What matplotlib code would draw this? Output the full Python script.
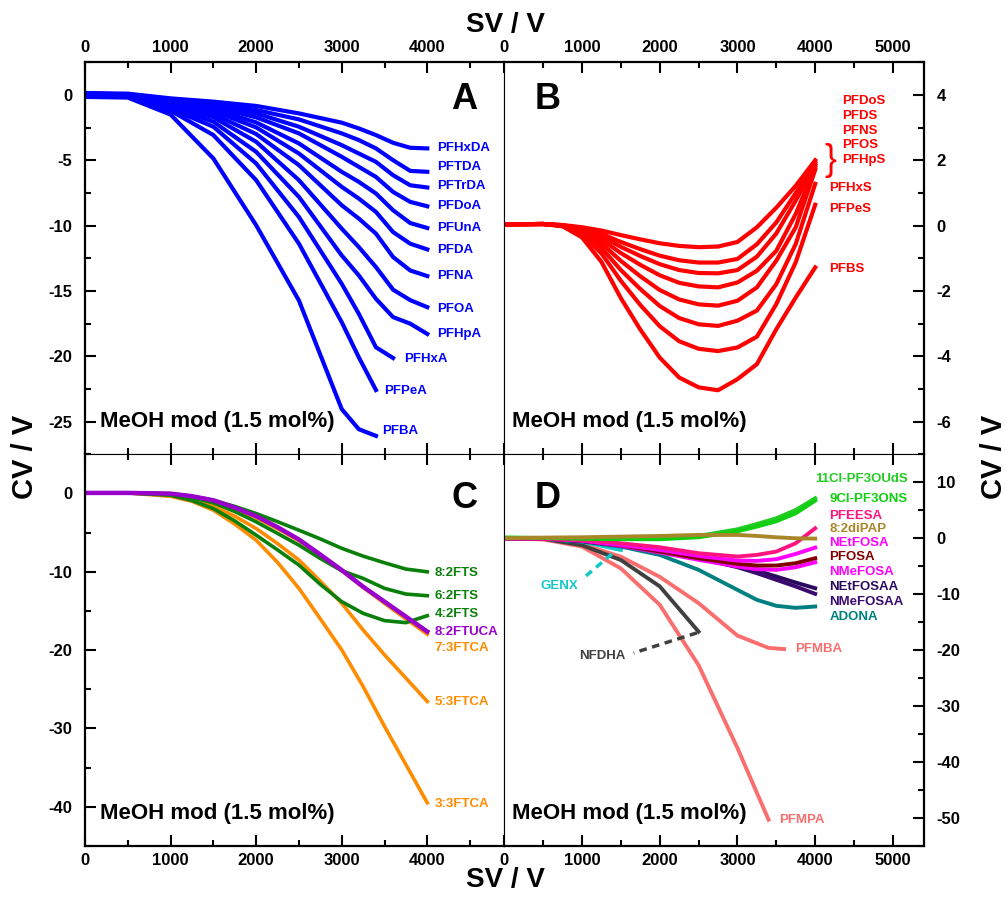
import matplotlib
matplotlib.use('Agg')
import matplotlib.pyplot as plt
from matplotlib.ticker import MultipleLocator

plt.rcParams['font.family'] = ['Liberation Sans', 'DejaVu Sans']
plt.rcParams['font.weight'] = 'bold'
plt.rcParams['axes.unicode_minus'] = False

# ---- Panel A: carboxylic acids ----
sv_a = [0, 500, 1000, 1500, 2000, 2500, 3000, 3200, 3400, 3600, 3800, 4000]
names_a = ['PFHxDA', 'PFTDA', 'PFTrDA', 'PFDoA', 'PFUnA', 'PFDA', 'PFNA',
           'PFOA', 'PFHpA', 'PFHxA', 'PFPeA', 'PFBA']
cv_a = [
    [0.15, 0.1, -0.26, -0.51, -0.84, -1.41, -2.12, -2.56, -3.07, -3.66, -4.04, -4.09],
    [0.1, 0.05, -0.31, -0.64, -1.15, -1.87, -2.94, -3.45, -4.09, -4.99, -5.81, -5.88],
    [0.1, 0.05, -0.38, -0.77, -1.41, -2.43, -3.84, -4.48, -5.12, -6.14, -6.91, -7.08],
    [0.05, 0.0, -0.43, -0.9, -1.71, -2.94, -4.73, -5.5, -6.27, -7.42, -8.18, -8.52],
    [0.05, 0.0, -0.51, -1.07, -2.1, -3.71, -5.88, -6.65, -7.54, -8.82, -9.8, -10.18],
    [0.0, -0.05, -0.59, -1.23, -2.48, -4.48, -7.03, -7.93, -8.95, -10.49, -11.38, -11.82],
    [0.0, -0.05, -0.69, -1.46, -2.99, -5.37, -8.44, -9.46, -10.61, -12.4, -13.43, -13.86],
    [-0.05, -0.1, -0.79, -1.71, -3.58, -6.52, -10.23, -11.64, -13.17, -14.9, -15.7, -16.24],
    [-0.05, -0.1, -0.9, -2.05, -4.35, -7.8, -12.28, -13.81, -15.6, -17.0, -17.5, -18.29],
    [-0.1, -0.15, -1.05, -2.43, -5.24, -9.34, -14.45, -16.75, -19.31, -20.13],
    [-0.1, -0.15, -1.2, -3.07, -6.52, -11.38, -17.39, -20.08, -22.58],
    [-0.15, -0.2, -1.5, -4.86, -9.97, -15.73, -24.04, -25.58, -26.09],
]

# ---- Panel B: sulfonic acids ----
sv_b = [0, 500, 750, 1000, 1250, 1500, 1750, 2000, 2250, 2500, 2750, 3000,
        3250, 3500, 3750, 4000]
names_b = ['PFDoS', 'PFDS', 'PFNS', 'PFOS', 'PFHpS', 'PFHxS', 'PFPeS', 'PFBS']
cv_b = [
    [0.04, 0.05, 0.02, -0.05, -0.15, -0.29, -0.42, -0.54, -0.62, -0.66, -0.64, -0.5, -0.05, 0.55, 1.22, 2.0],
    [0.04, 0.05, 0.01, -0.08, -0.25, -0.5, -0.72, -0.92, -1.06, -1.13, -1.13, -1.02, -0.57, 0.1, 1.0, 1.92],
    [0.04, 0.05, 0.01, -0.1, -0.32, -0.65, -0.93, -1.18, -1.36, -1.45, -1.46, -1.36, -0.95, -0.24, 0.77, 1.85],
    [0.04, 0.05, 0.0, -0.13, -0.42, -0.84, -1.2, -1.52, -1.75, -1.86, -1.89, -1.74, -1.38, -0.77, 0.36, 1.79],
    [0.04, 0.05, 0.0, -0.17, -0.54, -1.08, -1.55, -1.97, -2.26, -2.41, -2.45, -2.3, -1.89, -1.07, -0.05, 1.71],
    [0.04, 0.05, 0.0, -0.22, -0.68, -1.36, -1.94, -2.46, -2.83, -3.02, -3.07, -2.91, -2.6, -1.79, -0.56, 1.28],
    [0.04, 0.05, -0.01, -0.27, -0.85, -1.69, -2.43, -3.08, -3.54, -3.77, -3.84, -3.73, -3.4, -2.4, -1.12, 0.64],
    [0.04, 0.05, -0.02, -0.36, -1.11, -2.22, -3.18, -4.04, -4.65, -4.95, -5.04, -4.7, -4.24, -3.17, -2.2, -1.28],
]

# ---- Panel C: fluorotelomers ----
sv_c = [0, 500, 1000, 1250, 1500, 1750, 2000, 2250, 2500, 2750, 3000, 3250, 3500, 3750, 4000]
names_c = ['8:2FTS', '6:2FTS', '4:2FTS', '8:2FTUCA', '7:3FTCA', '5:3FTCA', '3:3FTCA']
cv_c = [
    [0.07, 0.07, -0.02, -0.35, -0.87, -1.65, -2.56, -3.6, -4.69, -5.8, -7.0, -8.0, -8.85, -9.65, -10.0],
    [0.07, 0.07, -0.1, -0.5, -1.2, -2.3, -3.62, -5.1, -6.6, -8.3, -9.86, -10.84, -12.11, -12.84, -13.05],
    [0.07, 0.07, -0.23, -0.9, -1.93, -3.5, -5.32, -7.2, -9.14, -11.6, -13.81, -15.3, -16.23, -16.49, -15.6],
    [0.07, 0.07, -0.02, -0.35, -0.87, -1.8, -2.9, -4.3, -5.87, -7.8, -9.78, -11.9, -13.81, -15.72, -17.63],
    [0.07, 0.07, -0.1, -0.5, -1.08, -2.0, -3.12, -4.5, -6.04, -7.9, -9.86, -11.99, -14.02, -16.02, -17.97],
    [0.07, 0.07, -0.23, -0.8, -1.63, -2.9, -4.47, -6.4, -8.5, -11.2, -14.02, -17.42, -20.6, -23.57, -26.55],
    [0.07, 0.07, -0.36, -1.0, -2.14, -3.9, -5.96, -8.8, -12.11, -16.0, -19.96, -24.64, -29.73, -34.61, -39.49],
]

# ---- Panel D: other PFAS ----
sv_d = [0, 500, 1000, 1500, 2000, 2500, 3000, 3250, 3500, 3750, 4000]
names_d = ['11Cl-PF3OUdS', '9Cl-PF3ONS', 'PFEESA', '8:2diPAP', 'NEtFOSA', 'PFOSA',
           'NMeFOSA', 'NEtFOSAA', 'NMeFOSAA', 'ADONA']
cv_d = [
    [0.11, 0.05, -0.01, -0.07, -0.01, 0.41, 1.6, 2.55, 3.57, 5.05, 7.14],
    [0.11, 0.05, -0.07, -0.18, -0.18, 0.17, 1.24, 2.08, 3.03, 4.46, 6.72],
    [-0.01, -0.07, -0.3, -0.9, -1.61, -2.68, -3.27, -2.98, -2.38, -0.89, 1.78],
    [-0.01, 0.11, 0.17, 0.29, 0.41, 0.59, 0.59, 0.41, 0.17, -0.01, -0.07],
    [-0.01, -0.07, -0.42, -1.2, -2.09, -3.16, -3.99, -4.05, -3.75, -2.8, -1.67],
    [-0.01, -0.07, -0.42, -1.26, -2.38, -3.57, -4.58, -4.88, -4.88, -4.46, -3.57],
    [-0.01, -0.07, -0.42, -1.36, -2.55, -3.86, -5.05, -5.53, -5.65, -5.18, -4.29],
    [-0.01, -0.07, -0.48, -1.31, -2.09, -3.16, -4.76, -5.77, -6.84, -7.92, -8.93],
    [-0.01, -0.07, -0.48, -1.36, -2.26, -3.57, -5.18, -6.25, -7.44, -8.63, -9.94],
    [-0.01, -0.07, -0.6, -1.49, -2.98, -5.65, -9.23, -11.01, -12.08, -12.44, -12.2],
]
sv_genx = [0, 500, 1000, 1500]
cv_genx = [0.0, -0.1, -0.6, -2.1]
sv_nfdha = [0, 500, 1000, 1500, 2000, 2500]
cv_nfdha = [0.0, -0.1, -1.25, -3.9, -8.6, -16.7]
sv_pfmba = [0, 500, 1000, 1500, 2000, 2500, 3000, 3400, 3600]
cv_pfmba = [0.0, -0.2, -1.07, -3.3, -6.9, -11.6, -17.4, -19.6, -19.8]
sv_pfmpa = [0, 500, 1000, 1500, 2000, 2500, 3000, 3400]
cv_pfmpa = [0.0, -0.2, -1.5, -5.4, -11.9, -22.7, -37.5, -50.3]

# label placement (layout)
lab_a_x = [4110] * 9 + [3724, 3492, 3472]
lab_a_y = [-4.09, -5.55, -6.98, -8.51, -10.17, -11.89, -13.88, -16.36, -18.28,
           -20.19, -22.62, -25.74]
lab_b_x = [4350] * 5 + [4184] * 3
lab_b_y = [3.81, 3.37, 2.91, 2.47, 2.02, 1.14, 0.51, -1.33]
lab_c_y = [-10.13, -13.05, -15.39, -17.64, -19.68, -26.67, -39.58]
lab_d_x = [4000] + [4184] * 9
lab_d_y = [10.5, 7.1, 4.0, 1.66, -0.77, -3.4, -5.95, -8.8, -11.4, -14.0]

col_c = ['#0a800a', '#0a800a', '#0a800a', '#9900cc', '#ff8c00', '#ff8c00', '#ff8c00']
col_d = ['#22cc22', '#11d011', '#ff1480', '#a8862a', '#ff00ff', '#800000',
         '#ff00ff', '#2a0a5e', '#3a0a6e', '#008080']
salmon = '#fa6e6e'
cyan = '#14c8c8'
gray = '#404040'

fig = plt.figure(figsize=(10.06, 8.98), dpi=100)
L, M, R = 85 / 1006, 504.3 / 1006, 924 / 1006
T, H, B = 1 - 62.3 / 898, 1 - 454.3 / 898, 1 - 846 / 898
axA = fig.add_axes([L, H, M - L, T - H])
axB = fig.add_axes([M, H, R - M, T - H])
axC = fig.add_axes([L, B, M - L, H - B])
axD = fig.add_axes([M, B, R - M, H - B])


def style(ax, xlim, ylim, ymaj, ymin, side, top):
    ax.set_xlim(*xlim)
    ax.set_ylim(*ylim)
    ax.xaxis.set_major_locator(MultipleLocator(1000))
    ax.xaxis.set_minor_locator(MultipleLocator(500))
    ax.yaxis.set_major_locator(MultipleLocator(ymaj))
    ax.yaxis.set_minor_locator(MultipleLocator(ymin))
    for s in ax.spines.values():
        s.set_linewidth(1.6)
    inner_x = 'right' if side == 'left' else 'left'
    inner_y = 'bottom' if top else 'top'
    ax.spines[inner_x].set_linewidth(0.8)
    ax.spines[inner_y].set_linewidth(0.8)
    ax.tick_params(which='both', direction='in', width=1.5, labelsize=12,
                   top=True, bottom=True, left=(side == 'left'), right=(side == 'right'),
                   labelleft=(side == 'left'), labelright=(side == 'right'),
                   labeltop=top, labelbottom=not top)
    ax.tick_params(which='major', length=8)
    ax.tick_params(which='minor', length=4)
    ax.tick_params(axis='y', pad=9)
    ax.tick_params(axis='x', pad=5)


style(axA, (0, 4900), (-27.5, 2.5), 5, 2.5, 'left', True)
style(axB, (0, 5400), (-7, 5), 2, 1, 'right', True)
style(axC, (0, 4900), (-45, 5), 10, 5, 'left', False)
style(axD, (0, 5400), (-55, 15), 10, 5, 'right', False)

# A
for name, cv, lx, ly in zip(names_a, cv_a, lab_a_x, lab_a_y):
    axA.plot(sv_a[:len(cv)], cv, color='#0000ff', lw=3, solid_joinstyle='round')
    axA.text(lx, ly, name, color='#0000ff', fontsize=9.5, va='center', ha='left')

# B
for name, cv, lx, ly in zip(names_b, cv_b, lab_b_x, lab_b_y):
    axB.plot(sv_b, cv, color='#ff0000', lw=3, solid_joinstyle='round')
    axB.text(lx, ly, name, color='#ff0000', fontsize=9.5, va='center', ha='left')
axB.text(4120, 2.0, '}', color='#ff0000', fontsize=26, fontweight='normal',
         va='center', ha='left')

# C
for i in [4, 5, 6, 0, 1, 2, 3]:
    axC.plot(sv_c, cv_c[i], color=col_c[i], lw=3.2 if i == 3 else 2.6,
             solid_joinstyle='round')
for name, col, ly in zip(names_c, col_c, lab_c_y):
    axC.text(4084, ly, name, color=col, fontsize=9.5, va='center', ha='left')

# D
axD.plot(sv_pfmpa, cv_pfmpa, color=salmon, lw=2.8)
axD.plot(sv_pfmba, cv_pfmba, color=salmon, lw=2.8)
axD.plot(sv_nfdha, cv_nfdha, color=gray, lw=2.8)
axD.plot(sv_genx, cv_genx, color=cyan, lw=2.8)
for i in [9, 7, 8, 6, 5, 4, 2, 0, 1, 3]:
    axD.plot(sv_d, cv_d[i], color=col_d[i], lw=2.8, solid_joinstyle='round')
for name, col, lx, ly in zip(names_d, col_d, lab_d_x, lab_d_y):
    axD.text(lx, ly, name, color=col, fontsize=9.5, va='center', ha='left')
axD.text(3743, -19.8, 'PFMBA', color=salmon, fontsize=9.5, va='center', ha='left')
axD.text(3536, -50.3, 'PFMPA', color=salmon, fontsize=9.5, va='center', ha='left')
axD.plot([1385, 1020], [-2.8, -7.1], color=cyan, lw=2.5, ls=(0, (2.2, 1.6)))
axD.text(712, -8.6, 'GENX', color=cyan, fontsize=9.5, va='center', ha='center')
axD.plot([2480, 1664], [-16.9, -20.5], color=gray, lw=2.5, ls=(0, (2.2, 1.6)))
axD.text(1257, -21.0, 'NFDHA', color=gray, fontsize=9.5, va='center', ha='center')

# panel letters and condition text
for ax, letter, lx, ly, mx in [(axA, 'A', 0.905, 0.904, 0.036),
                               (axB, 'B', 0.103, 0.904, 0.018),
                               (axC, 'C', 0.905, 0.887, 0.036),
                               (axD, 'D', 0.103, 0.887, 0.018)]:
    ax.text(lx, ly, letter, transform=ax.transAxes, fontsize=26,
            ha='center', va='center')
    ax.text(mx, 0.084, 'MeOH mod (1.5 mol%)', transform=ax.transAxes,
            fontsize=16, ha='left', va='center')

fig.text(0.502, 0.972, 'SV / V', fontsize=20, ha='center', va='center')
fig.text(0.502, 0.02, 'SV / V', fontsize=20, ha='center', va='center')
fig.text(0.025, 0.491, 'CV / V', fontsize=21, ha='center', va='center', rotation=90)
fig.text(0.9876, 0.491, 'CV / V', fontsize=21, ha='center', va='center', rotation=90)

fig.savefig('out.png', dpi=100)
